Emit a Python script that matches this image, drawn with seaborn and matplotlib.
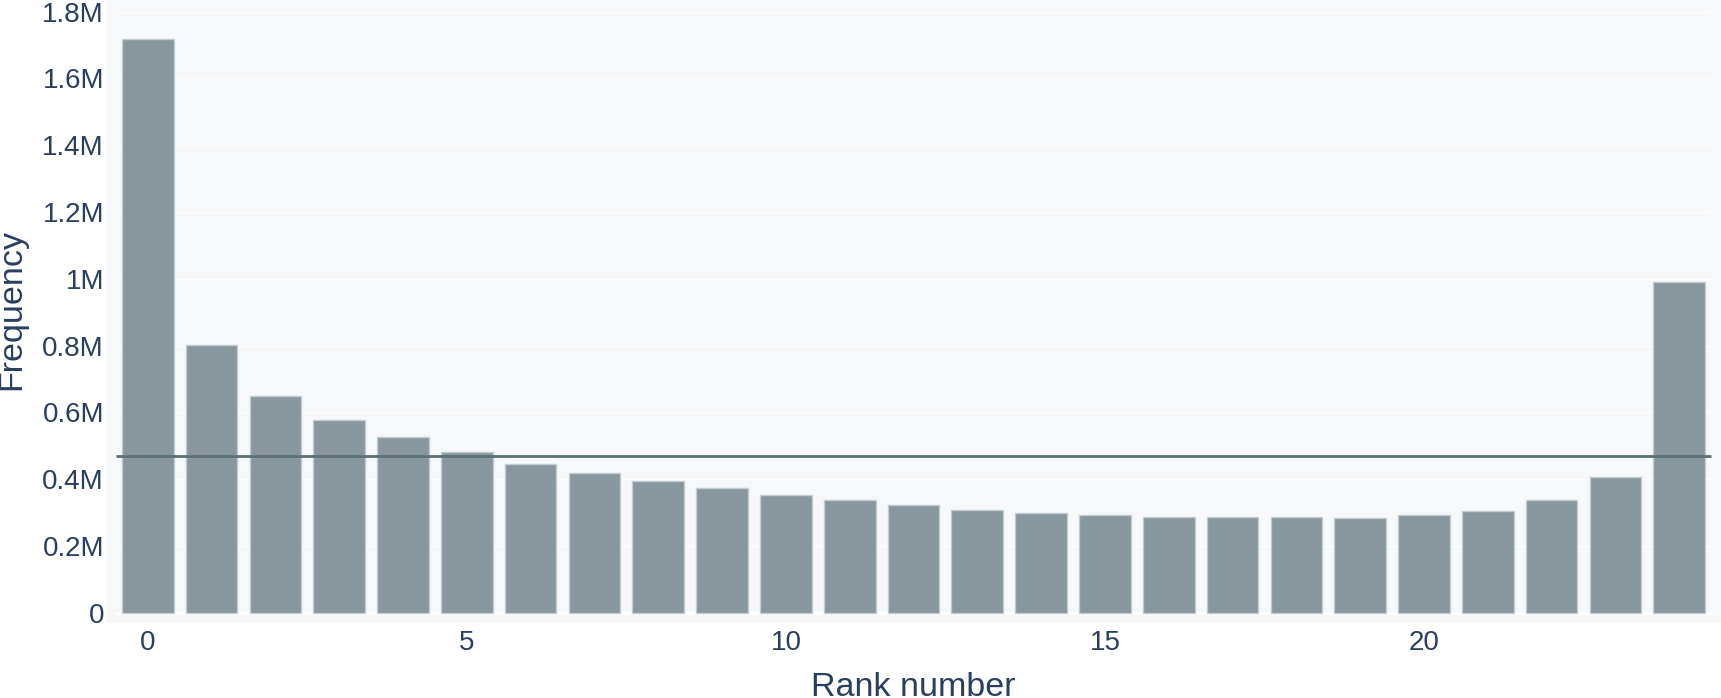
import numpy as np
import pandas as pd
import matplotlib
matplotlib.use('agg')
import matplotlib.pyplot as plt
import seaborn as sns

# rank histogram values
ranks = list(range(25))
freq = [1.718e6, 0.803e6, 0.648e6, 0.576e6, 0.527e6, 0.480e6, 0.444e6, 0.418e6,
        0.395e6, 0.372e6, 0.352e6, 0.336e6, 0.322e6, 0.309e6, 0.299e6, 0.293e6,
        0.286e6, 0.286e6, 0.286e6, 0.283e6, 0.293e6, 0.306e6, 0.336e6, 0.405e6,
        0.990e6]
yTicks = [0, 0.2e6, 0.4e6, 0.6e6, 0.8e6, 1.0e6, 1.2e6, 1.4e6, 1.6e6, 1.8e6]
yTickLabels = ['0', '0.2M', '0.4M', '0.6M', '0.8M', '1M', '1.2M', '1.4M', '1.6M', '1.8M']
xTicks = [0, 5, 10, 15, 20]

TXT = '#2a3f5f'
BG = '#f6f8fa'
BAR = '#88979d'
LINE = '#5b7070'

sns.set_style('white')
plt.rcParams['font.family'] = ['Liberation Sans', 'DejaVu Sans']

W, H = 1721, 698
fig = plt.figure(figsize=(W / 100, H / 100), dpi=100)
ax = fig.add_axes([106 / W, (H - 622.7) / H, (W - 106) / W, 622.7 / H])
ax.set_facecolor(BG)

df = pd.DataFrame({'rank': ranks, 'freq': freq})
sns.barplot(data=df, x='rank', y='freq', color=BAR, saturation=1, width=0.81,
            edgecolor='#c3ccd0', linewidth=1, ax=ax, zorder=3)

# grid lines limited to the bar range, like the original
ax.hlines(yTicks[1:], -0.5, 24.5, colors='white', linewidth=1, zorder=1)
ax.hlines([0], -0.5, 24.5, colors='white', linewidth=2, zorder=1)
# expected (uniform) frequency
ax.hlines([np.mean(freq)], -0.5, 24.5, colors=LINE, linewidth=2, zorder=4)

ax.set_xlim(-0.655, 24.655)
ax.set_ylim(-0.03e6, 1.835e6)
ax.set_xticks(xTicks)
ax.set_xticklabels([str(t) for t in xTicks])
ax.set_yticks(yTicks)
ax.set_yticklabels(yTickLabels)
ax.tick_params(axis='both', length=0, labelsize=20, labelcolor=TXT)
ax.tick_params(axis='y', pad=1.5)
ax.tick_params(axis='x', pad=5)
ax.set_xlabel('')
ax.set_ylabel('')
for s in ax.spines.values():
    s.set_visible(False)

fig.text(12 / W, 1 - 309 / H, 'Frequency', rotation=90, ha='center', va='center',
         fontsize=24.5, color=TXT)
fig.text(913.5 / W, 2 / H, 'Rank number', ha='center', va='baseline',
         fontsize=24.5, color=TXT)

fig.savefig('out.png', dpi=100, facecolor='white')
